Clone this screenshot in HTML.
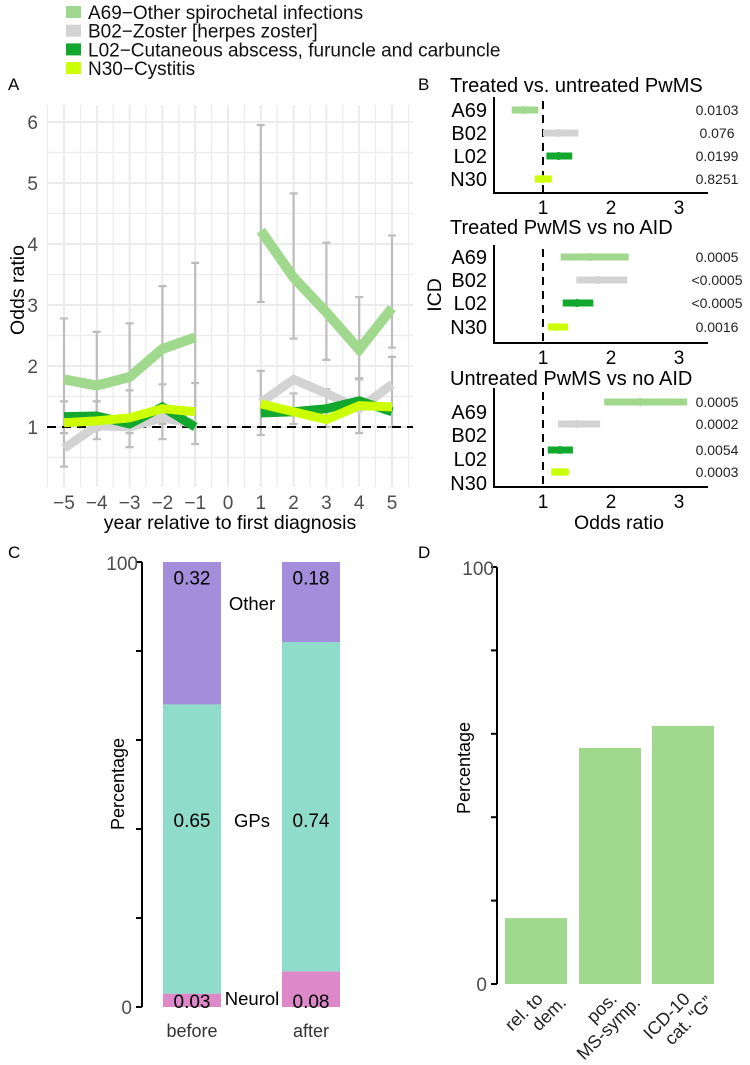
<!DOCTYPE html>
<html><head><meta charset="utf-8"><style>
body{margin:0;background:#fff}
svg{display:block;font-family:"Liberation Sans",Arial,sans-serif}
</style></head><body>
<svg id="fig" width="750" height="1065" viewBox="0 0 750 1065">
<g id="legend"></g>
<text x="8" y="90" font-size="17">A</text>
<text x="418" y="90" font-size="17">B</text>
<text x="8" y="558" font-size="17">C</text>
<text x="418" y="558" font-size="17">D</text>
<g id="pa"></g>
<g id="pb"></g>
<g id="pc"></g>
<g id="pd"></g>
</svg>
<script>
const NS="http://www.w3.org/2000/svg";
function mk(parent,tag,attrs,text){const e=document.createElementNS(NS,tag);for(const k in attrs)e.setAttribute(k,attrs[k]);if(text!==undefined)e.textContent=text;parent.appendChild(e);return e;}

// ---- Data ----
const seriesNames=["A69","B02","L02","N30"];
const legendLabels=["A69\u2212Other spirochetal infections","B02\u2212Zoster [herpes zoster]","L02\u2212Cutaneous abscess, furuncle and carbuncle","N30\u2212Cystitis"];
const colors=["#a0d98e","#d3d3d3","#12a82e","#ccff00"];
const yearsBefore=[-5,-4,-3,-2,-1];
const yearsAfter=[1,2,3,4,5];
const a69Before=[1.78,1.68,1.82,2.28,2.47];
const a69After=[4.22,3.45,2.88,2.27,2.95];
const b02Before=[0.65,1.02,1.0,1.15,1.05];
const b02After=[1.4,1.78,1.55,1.3,1.7];
const l02Before=[1.17,1.18,1.05,1.33,1.0];
const l02After=[1.23,1.25,1.3,1.43,1.25];
const n30Before=[1.07,1.1,1.15,1.3,1.25];
const n30After=[1.38,1.25,1.12,1.35,1.33];
const a69LowBefore=[0.9,0.95,0.9,1.05,1.0];
const a69HighBefore=[2.78,2.56,2.7,3.31,3.69];
const a69LowAfter=[3.05,2.45,2.1,1.8,2.3];
const a69HighAfter=[5.95,4.83,4.02,3.13,4.14];
const b02LowBefore=[0.35,0.8,0.67,0.8,0.72];
const b02HighBefore=[1.42,1.42,1.6,1.7,1.72];
const b02LowAfter=[0.87,1.05,1.0,0.9,1.0];
const b02HighAfter=[1.92,1.55,1.62,1.78,2.15];
const yTicksA=[1,2,3,4,5,6];
const xTicksA=[-5,-4,-3,-2,-1,0,1,2,3,4,5];

const forestTitles=["Treated vs. untreated PwMS","Treated PwMS vs no AID","Untreated PwMS vs no AID"];
const forestEst1=[0.71,1.23,1.23,0.99];
const forestLo1=[0.54,1.0,1.05,0.88];
const forestHi1=[0.93,1.52,1.43,1.13];
const forestP1=["0.0103","0.076","0.0199","0.8251"];
const forestEst2=[1.69,1.82,1.5,1.2];
const forestLo2=[1.26,1.49,1.29,1.07];
const forestHi2=[2.26,2.24,1.74,1.37];
const forestP2=["0.0005","<0.0005","<0.0005","0.0016"];
const forestEst3=[2.43,1.5,1.25,1.25];
const forestLo3=[1.9,1.22,1.07,1.12];
const forestHi3=[3.12,1.84,1.44,1.38];
const forestP3=["0.0005","0.0002","0.0054","0.0003"];
const forestTicks=[1,2,3];

const cCategories=["before","after"];
const cNeurol=[0.03,0.08];
const cGPs=[0.65,0.74];
const cOther=[0.32,0.18];
const cSegNames=["Neurol","GPs","Other"];
const cSegColors=["#dd88c9","#8edcc9","#a48ddb"];

const dCategories=[["rel. to","dem."],["pos.","MS-symp."],["ICD-10","cat. \u201cG\u201d"]];
const dValues=[15.8,56.6,61.9];

// ---- Legend ----
const lg=document.getElementById('legend');
legendLabels.forEach((t,i)=>{
  const y=12+i*18.7;
  const r=mk(lg,'rect',{x:66,y:y-6,width:15,height:12,fill:colors[i]});
  
  
  const tx=mk(lg,'text',{x:88,y:y+7,'font-size':19,fill:'#111'},t);
  
  
});

// ---- Panel A ----
const pa=document.getElementById('pa');
const ax=v=>228+v*32.8, ay=v=>427-(v-1)*61;
const aL=47,aR=413,aT=105,aB=487;
for(let v=-5.5;v<=5.51;v+=0.5){const g=mk(pa,'line',{x1:ax(v),x2:ax(v),y1:aT,y2:aB,stroke:'#ebebeb','stroke-width':Number.isInteger(v)?2:1.2});}
for(let v=0.5;v<=6.01;v+=0.5){const y=ay(v);if(y<aT||y>aB)continue;const g=mk(pa,'line',{x1:aL,x2:aR,y1:y,y2:y,stroke:'#ebebeb','stroke-width':Number.isInteger(v)?2:1.2});}
yTicksA.forEach(v=>{const t=mk(pa,'text',{x:38,y:ay(v)+7,'font-size':19,fill:'#4d4d4d','text-anchor':'end'},v);});
xTicksA.forEach(v=>{const t=mk(pa,'text',{x:ax(v),y:509,'font-size':19,fill:'#4d4d4d','text-anchor':'middle'},v<0?'\u2212'+(-v):v);});
let t=mk(pa,'text',{x:230,y:529,'font-size':19.5,'text-anchor':'middle'},'year relative to first diagnosis');
t=mk(pa,'text',{x:0,y:0,'font-size':19.5,'text-anchor':'middle',transform:'translate(24,290) rotate(-90)'},'Odds ratio');
function errbars(xs,lo,hi){xs.forEach((x,i)=>{const X=ax(x);const e=mk(pa,'path',{d:`M${X},${ay(lo[i])}V${ay(hi[i])}M${X-4},${ay(lo[i])}H${X+4}M${X-4},${ay(hi[i])}H${X+4}`,stroke:'#bdbdbd','stroke-width':2.2,fill:'none'});});}
errbars(yearsBefore,a69LowBefore,a69HighBefore);errbars(yearsAfter,a69LowAfter,a69HighAfter);
errbars(yearsBefore,b02LowBefore,b02HighBefore);errbars(yearsAfter,b02LowAfter,b02HighAfter);
let dl=mk(pa,'line',{x1:aL,x2:aR,y1:ay(1),y2:ay(1),stroke:'#000','stroke-width':2,'stroke-dasharray':'9,6'});
const lineData=[[a69Before,a69After],[b02Before,b02After],[l02Before,l02After],[n30Before,n30After]];
[1,2,3,0].forEach(i=>{[[yearsBefore,lineData[i][0]],[yearsAfter,lineData[i][1]]].forEach(([xs,vs],k)=>{
  const p=mk(pa,'polyline',{points:xs.map((x,j)=>ax(x)+','+ay(vs[j])).join(' '),fill:'none',stroke:colors[i],'stroke-width':i==0?10:9,'stroke-linejoin':'miter'});
  
  
});});

// ---- Panel B ----
const pb=document.getElementById('pb');
const bx=v=>543+(v-1)*68;
const panels=[
 {title:forestTitles[0],ty:92,top:97,bot:193,rows:[110,133,156,179],labs:[117,140,163,186],est:forestEst1,lo:forestLo1,hi:forestHi1,p:forestP1,tick:214},
 {title:forestTitles[1],ty:234,top:245,bot:343,rows:[257,280,303,327],labs:[264,287,310,334],est:forestEst2,lo:forestLo2,hi:forestHi2,p:forestP2,tick:364},
 {title:forestTitles[2],ty:385,top:388,bot:487,rows:[402,424,450,472],labs:[419,442,466,490],est:forestEst3,lo:forestLo3,hi:forestHi3,p:forestP3,tick:508}];
panels.forEach((P,pi)=>{
  let e=mk(pb,'text',{x:450,y:P.ty,'font-size':20},P.title);
  e=mk(pb,'path',{d:`M494,${P.top}V${P.bot}H708`,stroke:'#000','stroke-width':2,fill:'none'});
  e=mk(pb,'line',{x1:bx(1),x2:bx(1),y1:P.top+4,y2:P.bot,stroke:'#000','stroke-width':2,'stroke-dasharray':'8,6'});
  forestTicks.forEach(v=>{const q=mk(pb,'text',{x:bx(v),y:P.tick,'font-size':19,'text-anchor':'middle'},v);});
  seriesNames.forEach((s,i)=>{
    let q=mk(pb,'text',{x:487,y:P.labs[i],'font-size':20,'text-anchor':'end'},s);
    q=mk(pb,'line',{x1:bx(P.lo[i]),x2:bx(P.hi[i]),y1:P.rows[i],y2:P.rows[i],stroke:colors[i],'stroke-width':7});
    q=mk(pb,'circle',{cx:bx(P.est[i]),cy:P.rows[i],r:4,fill:colors[i]});
    q=mk(pb,'text',{x:717,y:P.rows[i]+5,'font-size':14,'text-anchor':'middle',fill:'#222'},P.p[i]);
  });
});
t=mk(pb,'text',{x:0,y:0,'font-size':19.5,'text-anchor':'middle',transform:'translate(441,295) rotate(-90)'},'ICD');
t=mk(pb,'text',{x:619,y:529,'font-size':19.5,'text-anchor':'middle'},'Odds ratio');

// ---- Panel C ----
const pc=document.getElementById('pc');
const cy=v=>1007-v*445;
let e=mk(pc,'line',{x1:142,x2:142,y1:cy(1),y2:cy(0),stroke:'#000','stroke-width':2});
[0,0.2,0.4,0.6,0.8,1].forEach(v=>{const q=mk(pc,'line',{x1:136,x2:142,y1:cy(v),y2:cy(v),stroke:'#000','stroke-width':2});});
e=mk(pc,'text',{x:132,y:cy(0)+7,'font-size':19,fill:'#4d4d4d','text-anchor':'end'},'0');
e=mk(pc,'text',{x:138,y:cy(1)+8,'font-size':19,fill:'#4d4d4d','text-anchor':'end'},'100');
e=mk(pc,'text',{x:0,y:0,'font-size':18,'text-anchor':'middle',transform:'translate(124,784) rotate(-90)'},'Percentage');
const cX=[163,282], cW=58;
cCategories.forEach((c,i)=>{
  const segs=[cNeurol[i],cGPs[i],cOther[i]];let base=0;
  segs.forEach((v,k)=>{
    const top=Math.min(1,base+v);
    const r=mk(pc,'rect',{x:cX[i],y:cy(top),width:cW,height:cy(base)-cy(top),fill:cSegColors[k]});
    
    const ly=k==0?1008:(k==1?cy(0.42)+7:cy(0.965)+7);
    const q=mk(pc,'text',{x:cX[i]+cW/2,y:ly,'font-size':19,'text-anchor':'middle'},v.toFixed(2));
    
    base=top;
  });
  const q=mk(pc,'text',{x:cX[i]+cW/2,y:1037,'font-size':18,fill:'#333','text-anchor':'middle'},c);
});
[['Other',610],['GPs',827],['Neurol',1005]].forEach(([s,y])=>{const q=mk(pc,'text',{x:252,y:y,'font-size':18.5,'text-anchor':'middle'},s);});

// ---- Panel D ----
const pd=document.getElementById('pd');
const dy=v=>984-v*4.17;
e=mk(pd,'line',{x1:497,x2:497,y1:dy(100),y2:dy(0),stroke:'#000','stroke-width':2});
[0,20,40,60,80,100].forEach(v=>{const q=mk(pd,'line',{x1:491,x2:497,y1:dy(v),y2:dy(v),stroke:'#000','stroke-width':2});});
e=mk(pd,'text',{x:487,y:dy(0)+7,'font-size':19,fill:'#4d4d4d','text-anchor':'end'},'0');
e=mk(pd,'text',{x:494,y:dy(100)+8,'font-size':19,fill:'#4d4d4d','text-anchor':'end'},'100');
e=mk(pd,'text',{x:0,y:0,'font-size':18,'text-anchor':'middle',transform:'translate(470,768) rotate(-90)'},'Percentage');
const dX=[505,579,652], dW=62;
dValues.forEach((v,i)=>{
  const r=mk(pd,'rect',{x:dX[i],y:dy(v),width:dW,height:dy(0)-dy(v),fill:'#a0d98e'});
  
  const cx=dX[i]+dW/2;
  const g=mk(pd,'text',{x:0,y:0,'font-size':18,fill:'#222','text-anchor':'end',transform:`translate(${cx+8},${1000}) rotate(-45)`});
  
  mk(g,'tspan',{x:0,dy:0},dCategories[i][0]);
  mk(g,'tspan',{x:14,dy:19},dCategories[i][1]);
});
</script>
</body></html>
